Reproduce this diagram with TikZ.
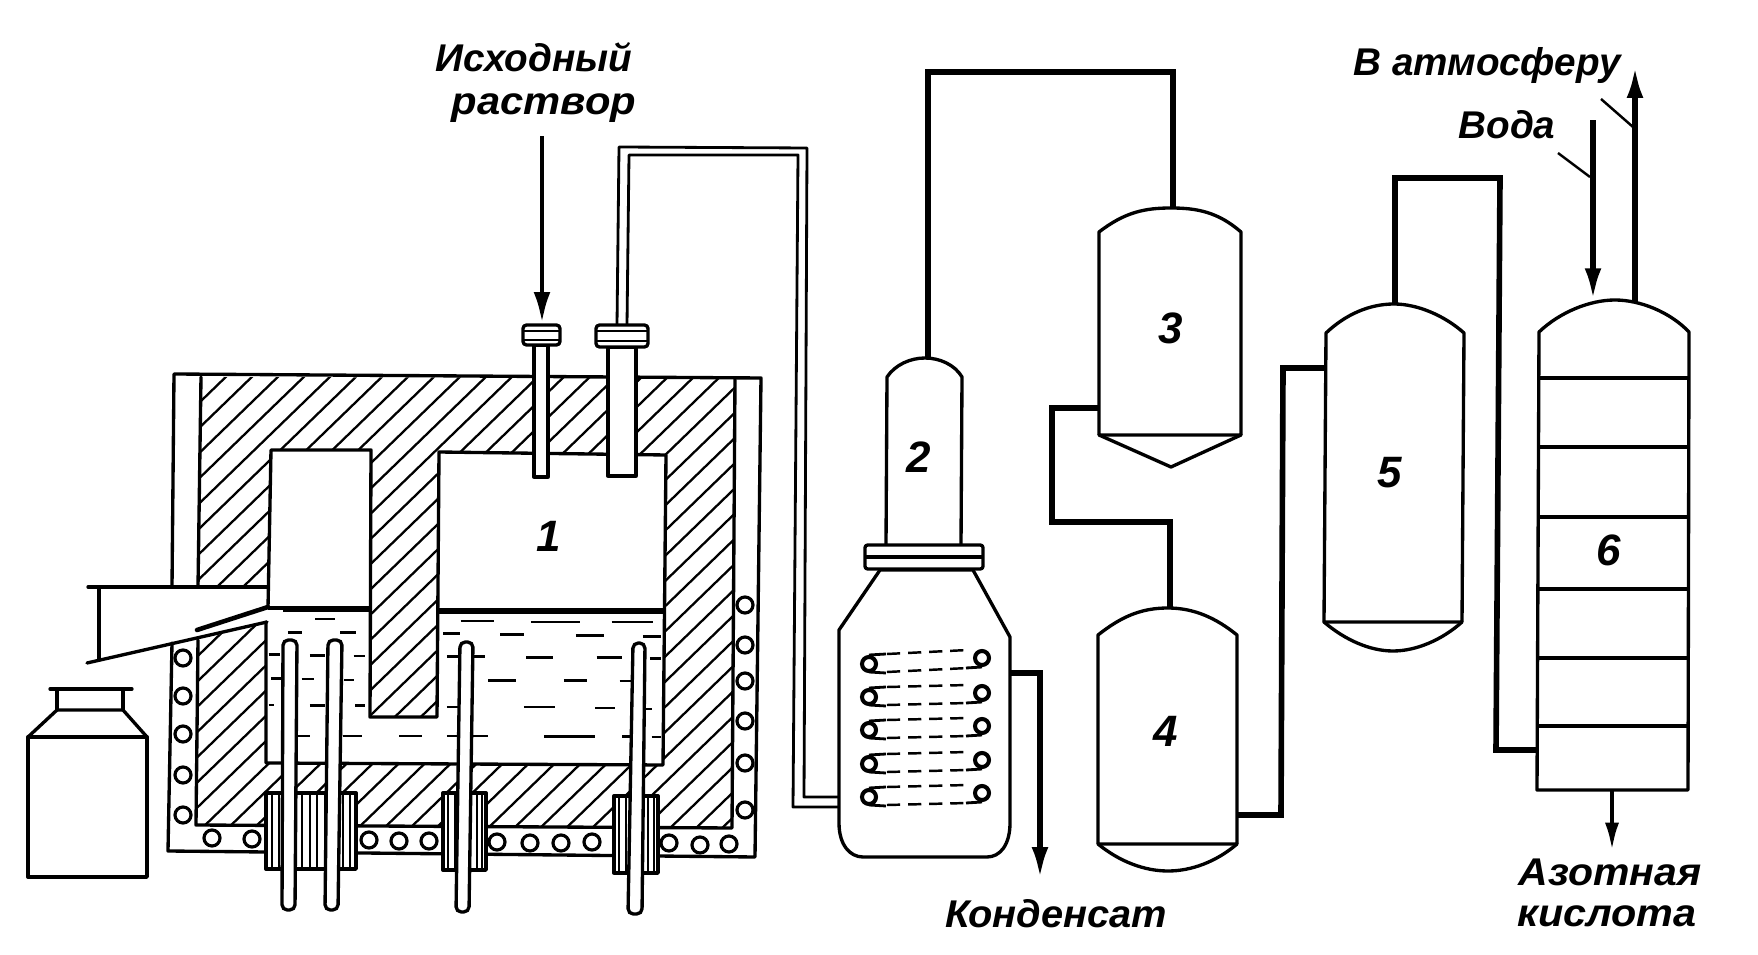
\documentclass[tikz,border=0pt]{standalone}
\usepackage{fontspec}
\setmainfont{Liberation Sans}
\usetikzlibrary{arrows.meta}
\tikzset{
  px/.style={x=0.02cm,y=-0.02cm},
  ln/.style={line width=1.9pt,line join=round,line cap=round},
  thn/.style={line width=1.3pt,line cap=round},
  pipe/.style={line width=3.2pt,line join=miter},
  wfill/.style={ln,fill=white},
  rodline/.style={line width=1.9pt,fill=white,rounded corners=3pt},
  lab/.style={font=\fontsize{22}{26}\selectfont\bfseries\itshape,inner sep=0pt},
  num/.style={font=\fontsize{25}{28}\selectfont\bfseries\itshape,inner sep=0pt},
  arr/.style={line width=3.1pt,-{Latex[length=18pt,width=9.5pt]}},
  arrs/.style={line width=2.4pt,-{Latex[length=16pt,width=8pt]}},
  coil/.style={line width=1.8pt,fill=white},
  coilb/.style={line width=2.3pt,fill=white},
  dsh/.style={line width=1.4pt,dash pattern=on 7.5pt off 4.5pt},
}
\begin{document}
\begin{tikzpicture}[px]
\useasboundingbox (0,0) rectangle (1758,955);
% hatching
\begin{scope}
\clip (198,587) -- (201,377) -- (735,378) -- (732,828) -- (196,825) -- (198,640) -- (267,622) -- (266,763) -- (663,765) -- (666,455) -- (439,452) -- (437,717) -- (370,717) -- (371,450) -- (271,450) -- (268,587) -- cycle;
\foreach \k in {0,...,42} {
  \draw[thn] ({181+\k*26},370) -- ({181+\k*26-510},{370+494});
}
\end{scope}
% casing
\draw[ln] (172,587) -- (174,374) -- (761,378) -- (755,857) -- (168,851) -- (172,643);
\draw[ln] (198,587) -- (201,377);
\draw[ln] (735,378) -- (732,828) -- (196,825) -- (198,640);
% cavity
\draw[ln] (266,622) -- (266,763) -- (663,765) -- (666,455) -- (439,452) -- (437,717) -- (370,717) -- (371,450) -- (271,450) -- (268,608);
% level lines
\draw[line width=2pt] (268,608) -- (369,608);
\draw[line width=3.2pt] (283,609) -- (369,609);
\draw[line width=3pt] (438,611) -- (665,611);
% hopper
\draw[ln] (88,587) -- (268,587);
\draw[ln] (99,587) -- (99,660);
\draw[ln] (87,663) -- (267,622);
\draw[line width=2.6pt,line cap=round] (197,630) -- (268,607);
% liquid
\begin{scope}[x=0.01097cm,y=-0.00772cm,shift={(0,906.5)}]
\foreach \a/\b/\c in {840/900/702,968/1058/705,1115/1190/705,808/838/735,912/955/738,1050/1102/740,1172/1205/742,815/885/795,960/1008/797,1088/1135/797,1185/1205/800,890/940/856,1028/1070/857,1130/1150/858,815/835/925,955/1012/925,1085/1122/928,1178/1188/930,815/890/1000,992/1085/1002,1135/1150/1002,1188/1205/1003,575/610/697,525/550/732,620/650/733,490/510/790,565/592/792,645/665/793,495/515/852,550/572/853,628/645/855,490/500/920,565/592/922,648/665/922,540/565/1000,625/660/1000,728/770/1000}
  \draw[line width=1.5pt] (\a,\c) -- (\b,\c);
\end{scope}
% coils of the furnace
\foreach \p in {658,696,734,775,815} \draw[coil] (183,\p) ellipse (8 and 8);
\foreach \p in {605,645,681,721,763,810} \draw[coil] (745,\p) ellipse (8 and 8);
\foreach \p/\q in {212/838,252/839,369/840,399/841,429/841,497/842,530/843,561/843,592/842,669/843,700/845,729/844} \draw[coil] (\p,\q) ellipse (8 and 8);
% clamps
\draw[wfill] (266,793) rectangle (356,869);
\foreach \p in {272,279,302,310,317,325,343,350} \draw[line width=1.7pt] (\p,793) -- (\p,869);
\draw[wfill] (443,793) rectangle (486,870);
\foreach \p in {448,455,477,482} \draw[line width=1.5pt] (\p,793) -- (\p,870);
\draw[wfill] (614,796) rectangle (658,873);
\foreach \p in {619,626,648,654} \draw[line width=1.5pt] (\p,796) -- (\p,873);
% rods
\draw[rodline] (283,640) -- (297,640) -- (295,910) -- (282,910) -- cycle;
\draw[rodline] (328,640) -- (342,640) -- (338,910) -- (325,910) -- cycle;
\draw[rodline] (460,642) -- (473,642) -- (469,912) -- (456,912) -- cycle;
\draw[rodline] (633,643) -- (645,643) -- (642,914) -- (628,914) -- cycle;
% bottle
\draw[ln] (28,737) rectangle (147,877);
\draw[ln] (28,737) -- (57,710) -- (123,710) -- (147,737);
\draw[ln] (57,710) -- (57,689) (123,710) -- (123,689);
\draw[ln] (50,689) -- (132,689);
% feed tubes
\draw[wfill] (534,345) rectangle (548,477);
\draw[wfill] (608,347) rectangle (636,476);
\draw[wfill,rounded corners=2pt] (523,325) rectangle (560,345);
\draw[line width=1.6pt] (523,331) -- (560,331) (523,340) -- (560,340);
\draw[wfill,rounded corners=2pt] (596,325) rectangle (648,347);
\draw[line width=1.6pt] (596,331) -- (648,331) (596,341) -- (648,341);
\node[inner sep=0pt] (feedtop) at (542,135) {};
\node[inner sep=0pt] (feedflange) at (542,325) {};
\draw[arr,line width=2.8pt] (feedtop) -- (feedflange);
% double pipe
\draw[line width=1.6pt,line join=round] (617,325) -- (619,147) -- (807,148) -- (804,797) -- (839,797);
\draw[line width=1.6pt,line join=round] (627,325) -- (629,155) -- (798,155) -- (793,807) -- (839,807);
% unit 2
\draw[wfill] (839,630) -- (880,570) -- (973,570) -- (1010,637) -- (1010,823) .. controls (1010,845) and (1000,857) .. (987,857) -- (863,857) .. controls (850,857) and (839,845) .. (839,823) -- cycle;
\draw[ln] (886,545) -- (887,377) .. controls (895,365) and (910,358) .. (925,358) .. controls (940,358) and (955,365) .. (962,377) -- (961,545);
\draw[wfill,rounded corners=1.5pt] (865,545) rectangle (983,569);
\draw[line width=2.2pt] (865,557) -- (983,557);
\foreach \c/\r in {664/658,697/693,730/726,764/760,797/793} {
  \draw[dsh] (887,\c-10) -- (968,\r-8);
  \draw[dsh] (887,\c+8) -- (968,\r+10);
  \draw[line width=1.6pt] (869,\c-9) -- (886,\c-10);
  \draw[line width=1.6pt] (869,\c+8) -- (886,\c+9);
  \draw[line width=1.6pt] (966,\r+10) -- (982,\r+9);
  \draw[coilb] (869,\c) circle (7);
  \draw[coilb] (982,\r) circle (7);
}
% condensate
\node[inner sep=0pt] (cd) at (1040,880) {};
\coordinate (cs) at (1011,673);
\draw[arr] (cs) -- (1040,673) -- (cd);
% unit 3
\draw[ln] (1099,435) -- (1099,232) .. controls (1125,212) and (1145,208) .. (1171,208) .. controls (1197,208) and (1218,212) .. (1241,232) -- (1241,435) -- cycle;
\draw[ln] (1099,435) -- (1171,467) -- (1241,435);
% unit 4
\draw[ln] (1098,844) -- (1098,635) .. controls (1122,616) and (1142,608) .. (1168,608) .. controls (1194,608) and (1216,618) .. (1237,635) -- (1237,844) -- cycle;
\draw[ln] (1098,844) .. controls (1120,862) and (1145,871) .. (1168,871) .. controls (1191,871) and (1216,862) .. (1237,844);
% unit 5
\draw[ln] (1324,622) -- (1326,333) .. controls (1346,314) and (1370,304) .. (1394,304) .. controls (1418,304) and (1445,316) .. (1464,333) -- (1462,622) -- cycle;
\draw[ln] (1324,622) .. controls (1345,640) and (1370,651) .. (1393,651) .. controls (1416,651) and (1442,640) .. (1462,622);
% unit 6
\draw[ln] (1537,790) -- (1539,332) .. controls (1560,312) and (1590,300) .. (1615,300) .. controls (1640,300) and (1670,312) .. (1689,332) -- (1688,790) -- cycle;
\foreach \p in {378,447,517,589,658,726} \draw[ln] (1539,\p) -- (1688,\p);
% thick pipes
\draw[pipe] (928,358) -- (928,72) -- (1173,72) -- (1173,207);
\draw[pipe] (1099,408) -- (1052,408) -- (1052,522) -- (1170,522) -- (1170,608);
\draw[pipe] (1237,815) -- (1281,815) -- (1283,368) -- (1324,368);
\draw[pipe] (1395,304) -- (1395,178) -- (1500,178) -- (1496,750) -- (1537,750);
% arrows of the column
\node[inner sep=0pt] (wa) at (1593,119) {};
\coordinate (wb) at (1593,300);
\draw[arr] (wa) -- (wb);
\coordinate (ea) at (1635,302);
\node[inner sep=0pt] (eb) at (1635,65) {};
\draw[arr] (ea) -- (eb);
\coordinate (ba) at (1612,790);
\node[inner sep=0pt] (bb) at (1612,852) {};
\draw[arrs] (ba) -- (bb);
% leaders
\draw[line width=1.4pt] (1558,153) -- (1590,177);
\draw[line width=1.4pt] (1601,99) -- (1633,127);
% labels
\node[lab] (l1) at (534,57) {Исходный};
\node[lab] (l2) at (544,108) {\scalebox{1.08}[1]{раствор}};
\node[lab] (l3) at (1056,914) {\scalebox{1.03}[1]{Конденсат}};
\node[lab] (l4) at (1487,66) {В атмосферу};
\node[lab] (l5) at (1507,125) {Вода};
\node[lab] (l6) at (1610,872) {\scalebox{1.06}[1]{Азотная}};
\node[lab] (l7) at (1607,916) {\scalebox{1.07}[1]{кислота}};
\node[num] (n1) at (549,536) {1};
\node[num] (n2) at (919,457) {2};
\node[num] (n3) at (1171,328) {3};
\node[num] (n4) at (1166,731) {4};
\node[num] (n5) at (1390,473) {5};
\node[num] (n6) at (1609,550) {6};
\end{tikzpicture}
\end{document}
